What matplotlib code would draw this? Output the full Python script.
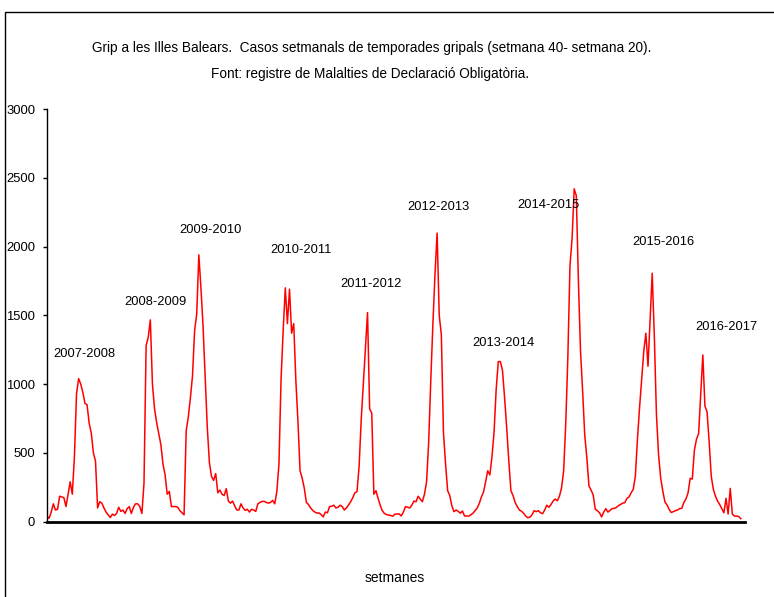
import matplotlib
matplotlib.use("Agg")
import matplotlib.pyplot as plt
from matplotlib.patches import Rectangle
import numpy as np

plt.rcParams['font.family'] = ['Liberation Sans', 'DejaVu Sans']

# Weekly cases per season (week 40 .. week 20), 33 weeks each
s2007_2008 = [40,25,70,130,85,90,185,180,175,110,200,290,200,470,930,1040,1000,940,860,850,715,645,500,440,100,145,135,100,70,50,30,55,45]
s2008_2009 = [60,105,75,85,60,95,110,60,105,130,130,110,60,280,1280,1340,1467,1000,820,720,640,560,420,340,200,220,110,110,110,105,80,65,50]
s2009_2010 = [660,760,900,1060,1390,1510,1940,1700,1420,1050,690,430,330,300,350,210,230,200,190,240,150,135,150,115,85,85,130,100,82,90,70,90,85]
s2010_2011 = [75,130,140,148,148,140,135,140,155,130,220,420,1040,1390,1700,1440,1690,1370,1440,1030,730,370,317,244,140,125,100,82,70,63,63,52,35]
s2011_2012 = [70,65,110,112,120,100,105,120,110,85,100,123,145,175,210,218,400,740,1000,1260,1520,820,790,200,225,170,120,80,60,52,48,45,40]
s2012_2013 = [55,56,56,42,70,110,105,100,120,150,145,185,165,145,200,290,580,1030,1440,1800,2098,1500,1360,650,420,225,190,115,73,85,75,62,78]
s2013_2014 = [42,41,41,50,62,80,100,133,180,215,290,370,340,470,650,960,1164,1164,1100,900,680,440,225,190,140,110,85,76,62,41,29,33,50]
s2014_2015 = [80,73,80,65,58,85,120,105,125,150,165,152,185,245,370,715,1200,1860,2060,2420,2370,1750,1240,950,630,465,260,230,195,90,80,65,35]
s2015_2016 = [70,95,70,82,95,97,103,117,125,135,138,170,180,210,235,330,600,830,1040,1240,1370,1130,1470,1806,1350,780,490,320,225,145,122,90,67]
s2016_2017 = [73,80,85,95,97,140,165,210,315,310,520,600,640,920,1212,840,800,580,330,235,185,150,125,95,65,170,56,242,56,41,41,38,22]

seasons = ["2007-2008","2008-2009","2009-2010","2010-2011","2011-2012",
           "2012-2013","2013-2014","2014-2015","2015-2016","2016-2017"]
series = [s2007_2008, s2008_2009, s2009_2010, s2010_2011, s2011_2012,
          s2012_2013, s2013_2014, s2014_2015, s2015_2016, s2016_2017]
# label anchor: (week index, value)
label_x = [17.5, 51.5, 77.5, 120.6, 153.7, 185.8, 216.5, 237.8, 292.2, 322.0]
label_y = [1220, 1597, 2120, 1975, 1728, 2287, 1300, 2301, 2033, 1416]
yticks = [0, 500, 1000, 1500, 2000, 2500, 3000]

values = np.concatenate(series)
x = np.arange(len(values))

W, H = 774, 597
fig = plt.figure(figsize=(W/100, H/100), dpi=100)
fig.patches.append(Rectangle((5/W, -0.1), 1.2, 1 - 12/H + 0.1, transform=fig.transFigure,
                             fill=False, edgecolor='black', linewidth=1.0))

ax = fig.add_axes([47/W, 1 - 521.7/H, 698/W, (521.7-109)/H])
ax.plot(x, values, color='#ff0000', linewidth=1.1)
ax.set_xlim(0, len(values) + 1)
ax.set_ylim(0, 3000)
ax.set_yticks(yticks)
ax.set_yticklabels([str(t) for t in yticks], fontsize=9.4)
ax.set_xticks([])
ax.tick_params(axis='y', direction='out', length=3, width=1, pad=5.5)
ax.spines['top'].set_visible(False)
ax.spines['right'].set_visible(False)
ax.spines['left'].set_linewidth(1.0)
ax.spines['bottom'].set_linewidth(2.0)
ax.patch.set_alpha(0)

for s, lx, ly in zip(seasons, label_x, label_y):
    ax.text(lx, ly, s, fontsize=9.3, ha='center', va='center', color='black')

fig.text(372/W, 1 - 48/H, "Grip a les Illes Balears.  Casos setmanals de temporades gripals (setmana 40- setmana 20).",
         ha='center', va='center', fontsize=9.8)
fig.text(370/W, 1 - 74/H, "Font: registre de Malalties de Declaració Obligatòria.",
         ha='center', va='center', fontsize=9.8)
fig.text(395/W, 1 - 578/H, "setmanes", ha='center', va='center', fontsize=10)

fig.savefig("out.png", dpi=100)
